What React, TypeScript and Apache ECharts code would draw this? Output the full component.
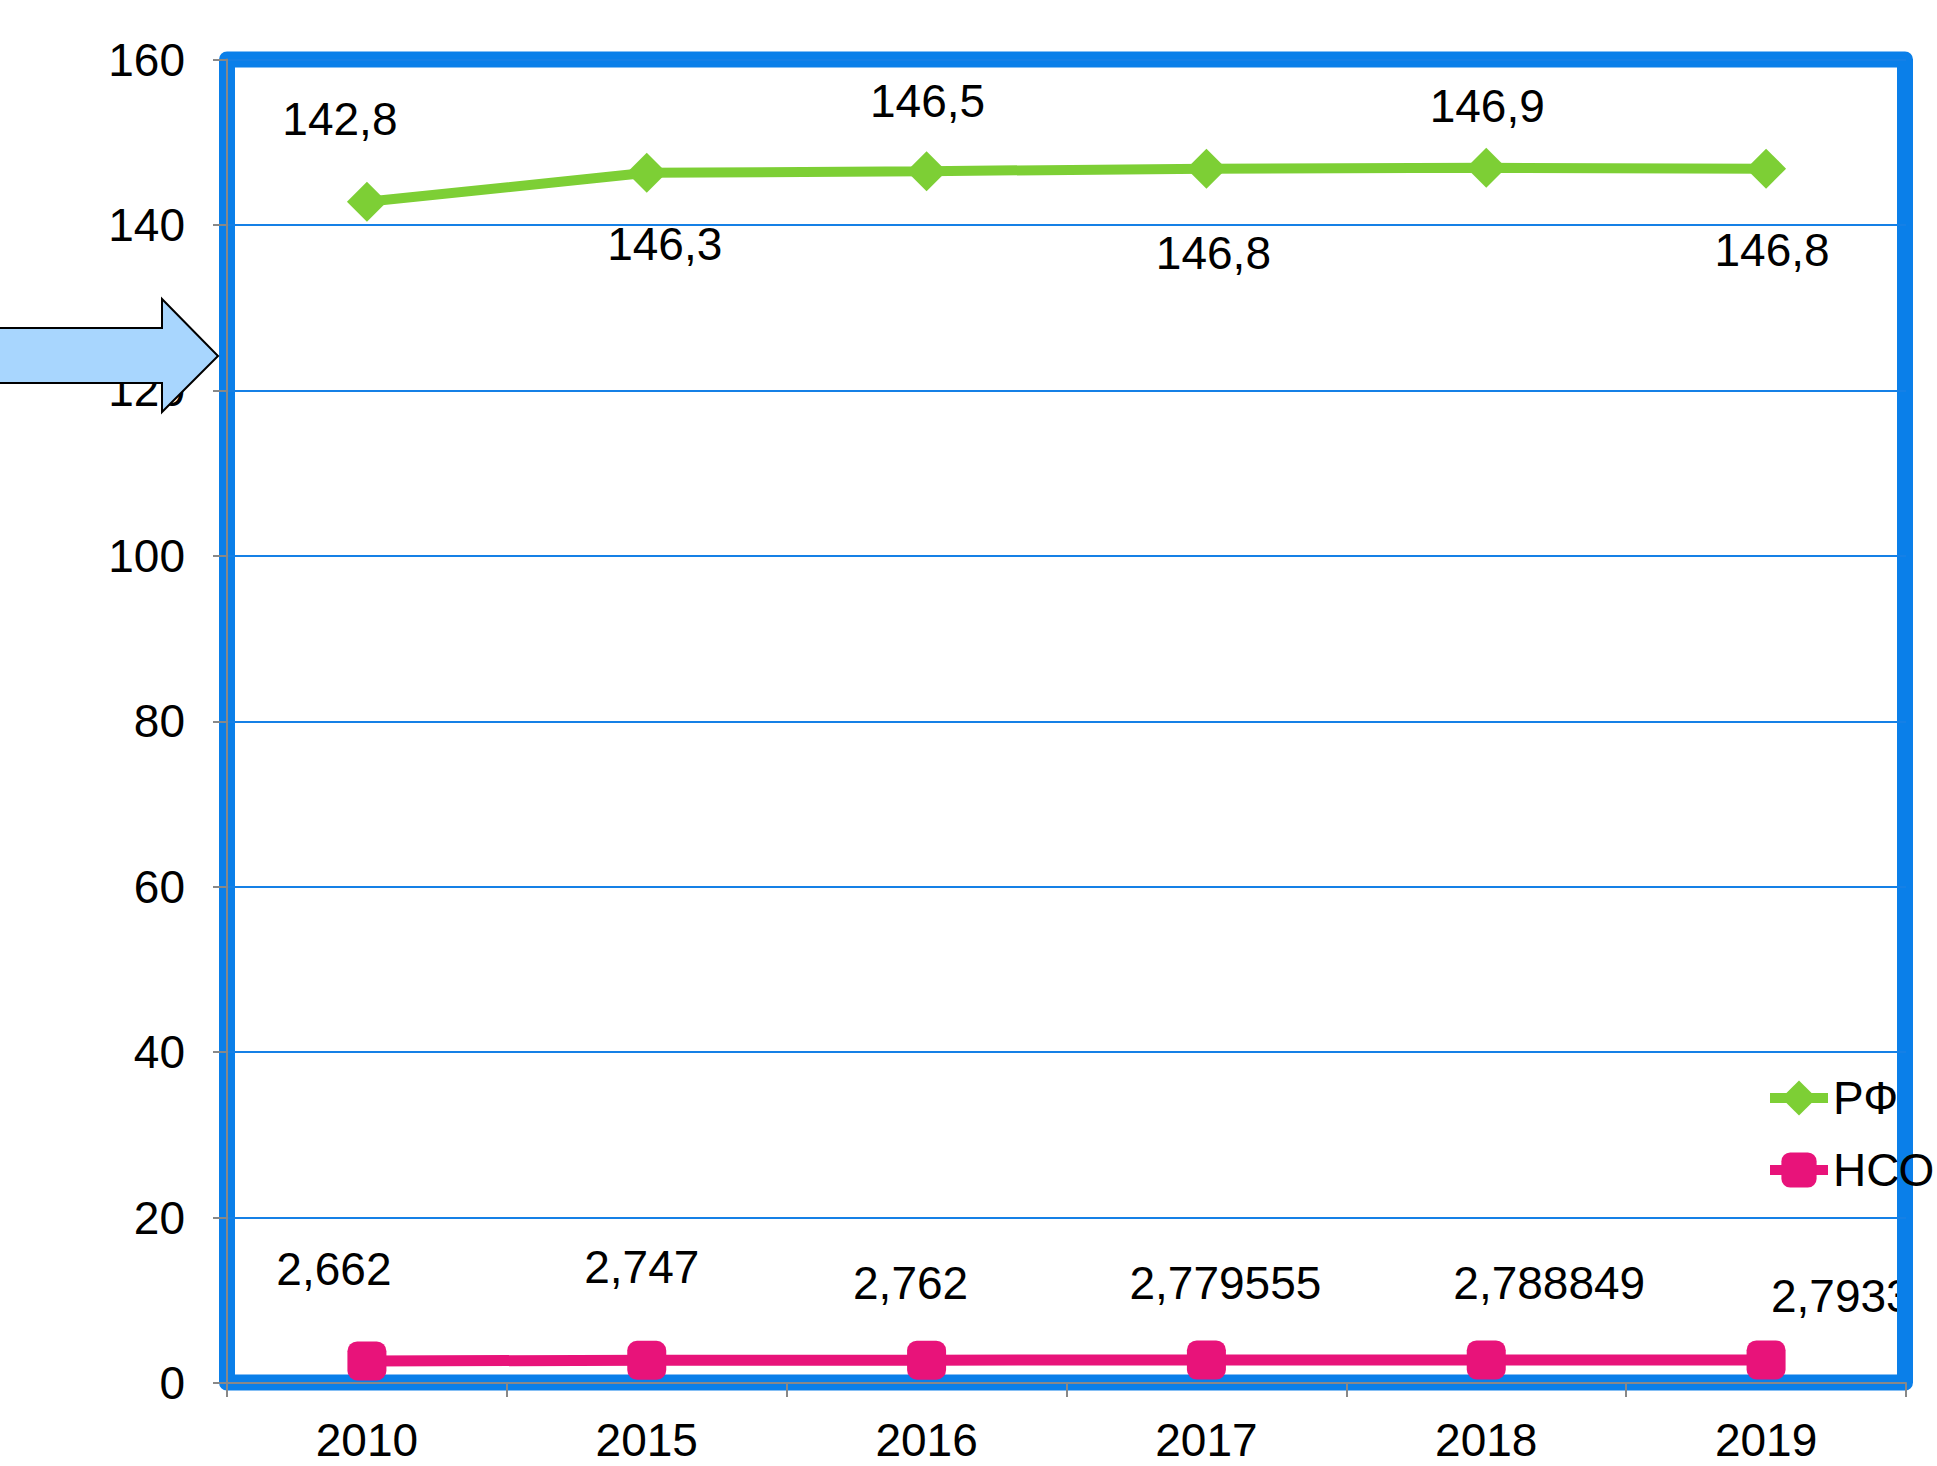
import React, { useEffect, useRef } from "react";
import * as echarts from "echarts";

const years = ["2010", "2015", "2016", "2017", "2018", "2019"];
const rfValues = [142.8, 146.3, 146.5, 146.8, 146.9, 146.8];
const nsoValues = [2.662, 2.747, 2.762, 2.779555, 2.788849, 2.79338];
const yMin = 0;
const yMax = 160;
const yInterval = 20;
const seriesNames = ["РФ", "НСО"];

// label placement (px offsets from the point)
const rfLabelOffsets = [[-27, -83], [18, 71], [1, -70], [7, 84], [1, -62], [6, 81]];
const nsoLabelOffsets = [[-33, -92], [-5, -93], [-16, -77], [19, -77], [63, -77], [88, -64]];

const FONT = "'Liberation Sans', Arial, sans-serif";
const fmt = (v: number) => String(v).replace(".", ",");

export default function App() {
  const ref = useRef<HTMLDivElement>(null);
  useEffect(() => {
    document.body.style.margin = "0";
    const chart = echarts.init(ref.current!, null, { renderer: "svg" });
    const labelBase = {
      show: true,
      position: "inside",
      color: "#000",
      fontSize: 46,
      fontFamily: FONT,
      textBorderWidth: 0,
      align: "center",
      verticalAlign: "middle",
    };
    chart.setOption({
      animation: false,
      backgroundColor: "#fff",
      grid: { left: 227, right: 31, top: 59.5, bottom: 83, containLabel: false },
      legend: {
        orient: "vertical",
        left: 1765,
        top: 1075,
        padding: 0,
        itemWidth: 58,
        itemHeight: 44,
        itemGap: 26,
        lineStyle: { width: 10 },
        textStyle: { fontSize: 46, color: "#000", fontFamily: FONT },
        data: seriesNames,
        z: 20,
      },
      xAxis: {
        type: "category",
        data: years,
        boundaryGap: true,
        z: 5,
        axisLine: { show: true, lineStyle: { color: "#888", width: 2 } },
        axisTick: { show: true, length: 14, lineStyle: { color: "#888", width: 2 } },
        axisLabel: { fontSize: 46, lineHeight: 46, color: "#000", fontFamily: FONT, margin: 34 },
      },
      yAxis: {
        type: "value",
        min: yMin,
        max: yMax,
        interval: yInterval,
        z: 5,
        axisLine: { show: true, lineStyle: { color: "#888", width: 2 } },
        axisTick: { show: true, length: 14, lineStyle: { color: "#888", width: 2 } },
        axisLabel: { fontSize: 46, color: "#000", fontFamily: FONT, margin: 42 },
        splitLine: { show: true, lineStyle: { color: "#1580E6", width: 2 } },
      },
      series: [
        {
          name: seriesNames[0],
          type: "line",
          z: 3,
          data: rfValues.map((v, i) => ({
            value: v,
            label: { ...labelBase, offset: rfLabelOffsets[i], formatter: fmt(v) },
          })),
          symbol: "diamond",
          symbolSize: 40,
          lineStyle: { color: "#7DCF35", width: 10 },
          itemStyle: { color: "#7DCF35" },
        },
        {
          name: seriesNames[1],
          type: "line",
          z: 3,
          data: nsoValues.map((v, i) => ({
            value: v,
            label: { ...labelBase, offset: nsoLabelOffsets[i], formatter: fmt(v) },
          })),
          symbol: "roundRect",
          symbolSize: 39,
          lineStyle: { color: "#E8137A", width: 11 },
          itemStyle: { color: "#E8137A" },
        },
      ],
      graphic: [
        {
          type: "rect",
          z: 1,
          shape: { x: 227, y: 59.5, width: 1678, height: 1323 },
          style: { fill: "none", stroke: "#0A7FE9", lineWidth: 16, lineJoin: "round" },
          silent: true,
        },
        {
          type: "rect",
          z: 100,
          shape: { x: 1912, y: 1240, width: 30, height: 100 },
          style: { fill: "#fff" },
          silent: true,
        },
        {
          type: "line",
          z: 101,
          shape: { x1: 1905, y1: 1240, x2: 1905, y2: 1340 },
          style: { stroke: "#0A7FE9", lineWidth: 16 },
          silent: true,
        },
        {
          type: "polygon",
          z: 110,
          shape: {
            points: [
              [-5, 328], [162, 328], [162, 299], [218, 356],
              [162, 412], [162, 383], [-5, 383],
            ],
          },
          style: { fill: "#A8D6FE", stroke: "#000", lineWidth: 2 },
          silent: true,
        },
      ],
    });
    return () => chart.dispose();
  }, []);
  return <div ref={ref} style={{ width: 1937, height: 1466 }} />;
}
